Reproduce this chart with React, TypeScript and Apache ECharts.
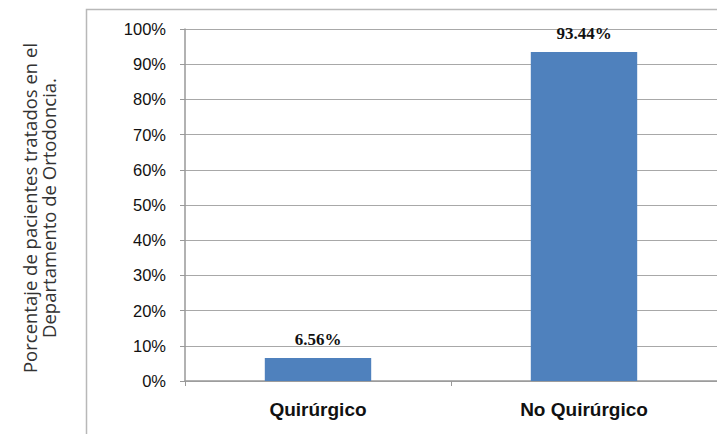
import React, { useEffect, useRef } from "react";
import * as echarts from "echarts";

const categories = ["Quirúrgico", "No Quirúrgico"];
const values = [6.56, 93.44];
const yAxisTitle = "Porcentaje de pacientes tratados en el\nDepartamento de Ortodoncia.";

export default function App() {
  const ref = useRef<HTMLDivElement>(null);
  useEffect(() => {
    if (!ref.current) return;
    const chart = echarts.init(ref.current, undefined, { renderer: "svg" });
    chart.setOption({
      animation: false,
      backgroundColor: "#ffffff",
      graphic: [
        {
          type: "rect",
          shape: { x: 86.5, y: 9.5, width: 700, height: 500 },
          style: { fill: "none", stroke: "#b8b8b8", lineWidth: 1.5 },
          silent: true,
          z: -1,
        },
        {
          type: "text",
          x: 39,
          y: 208,
          rotation: Math.PI / 2,
          style: {
            text: yAxisTitle,
            fill: "#333333",
            font: '18.5px "Open Sans"',
            align: "center",
            verticalAlign: "middle",
            lineHeight: 19,
          },
        },
      ],
      grid: { left: 185, right: 8, top: 29, bottom: 61, containLabel: false },
      xAxis: {
        type: "category",
        data: categories,
        axisLine: { lineStyle: { color: "#999999", width: 1.5 } },
        axisTick: { show: true, length: 5, lineStyle: { color: "#999999" } },
        axisLabel: {
          color: "#111111",
          fontFamily: "Liberation Sans",
          fontWeight: "bold",
          fontSize: 19,
          margin: 19,
        },
      },
      yAxis: {
        type: "value",
        min: 0,
        max: 100,
        interval: 10,
        axisLine: { show: true, lineStyle: { color: "#999999", width: 1.5 } },
        axisTick: { show: true, length: 5, lineStyle: { color: "#999999" } },
        axisLabel: {
          formatter: "{value}%",
          color: "#111111",
          fontFamily: "Liberation Sans",
          fontSize: 16.5,
          margin: 19,
        },
        splitLine: { lineStyle: { color: "#a8a8a8", width: 1.2 } },
      },
      series: [
        {
          type: "bar",
          data: values,
          barWidth: "40%",
          itemStyle: { color: "#4f81bd" },
          label: {
            show: true,
            position: "top",
            formatter: (p: any) => p.value.toFixed(2) + "%",
            color: "#111111",
            fontFamily: "Liberation Serif",
            fontWeight: "bold",
            fontSize: 17,
            distance: 10,
          },
        },
      ],
    });
    return () => chart.dispose();
  }, []);
  return <div ref={ref} style={{ width: 725, height: 442, margin: -8 }} />;
}
